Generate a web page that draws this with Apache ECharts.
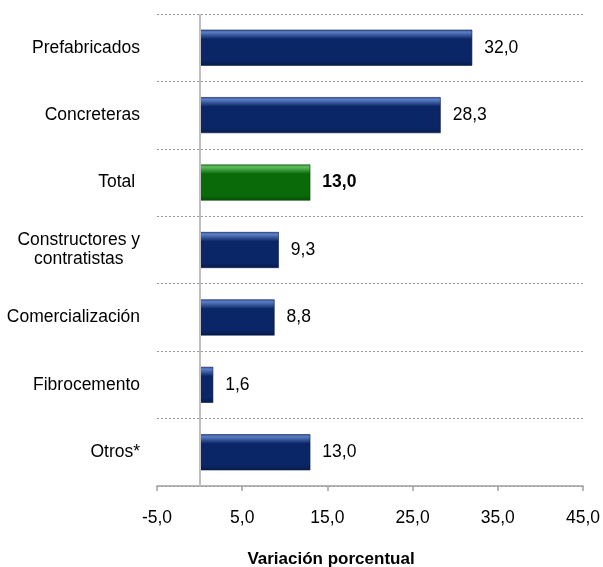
<!DOCTYPE html>
<html>
<head>
<meta charset="utf-8">
<script src="https://cdn.jsdelivr.net/npm/echarts@6/dist/echarts.min.js"></script>
<style>
html,body{margin:0;padding:0;background:#fff;}
#c{width:603px;height:567px;}
</style>
</head>
<body>
<div id="c"></div>
<script>
const categories = ['Prefabricados', 'Concreteras', 'Total ', 'Constructores y\ncontratistas', 'Comercialización', 'Fibrocemento', 'Otros*'];
const values = [32.0, 28.3, 13.0, 9.3, 8.8, 1.6, 13.0];
const highlightCategory = 'Total ';
const xTicks = [-5, 5, 15, 25, 35, 45];
const xMin = -5, xMax = 45;
const axisTitle = 'Variación porcentual';

const fmt = v => v.toFixed(1).replace('.', ',');
const FONT = '"Liberation Sans", Arial, sans-serif';
const FS = 17.5;

function barGradient(light, mid, main, dark) {
  return new echarts.graphic.LinearGradient(0, 0, 0, 1, [
    { offset: 0, color: mid },
    { offset: 0.07, color: light },
    { offset: 0.26, color: main },
    { offset: 0.86, color: main },
    { offset: 1, color: dark }
  ]);
}
const blue = barGradient('#5a7dc4', '#3a5ca6', '#0a2666', '#071b4a');
const green = barGradient('#5cbf5c', '#3d9a3d', '#0a6a0a', '#064f06');

const data = values.map((v, i) => {
  const isHi = categories[i] === highlightCategory;
  return {
    value: v,
    itemStyle: { color: isHi ? green : blue, borderColor: isHi ? '#064a06' : '#061a45', borderWidth: 0.6 },
    label: { fontWeight: isHi ? 'bold' : 'normal' }
  };
});

const chart = echarts.init(document.getElementById('c'), null, { renderer: 'canvas' });
chart.setOption({
  animation: false,
  backgroundColor: '#ffffff',
  grid: { left: 157, right: 20, top: 14, bottom: 81, containLabel: false },
  title: {
    text: axisTitle,
    left: 326,
    top: 546,
    textAlign: 'center',
    textStyle: { fontFamily: FONT, fontSize: 17, fontWeight: 'bold', color: '#000' }
  },
  xAxis: {
    type: 'value',
    min: xMin,
    max: xMax,
    axisLine: { show: true, onZero: false, lineStyle: { color: '#a0a0a0', width: 1.5 } },
    axisTick: { show: true, length: 5, inside: false, customValues: xTicks, lineStyle: { color: '#a0a0a0', width: 1.5 } },
    axisLabel: { customValues: xTicks, formatter: v => fmt(v), margin: 23, fontFamily: FONT, fontSize: FS, color: '#000' },
    splitLine: { show: false }
  },
  yAxis: {
    type: 'category',
    data: categories,
    inverse: true,
    axisLine: { show: false },
    axisTick: { show: false },
    splitLine: { show: true, lineStyle: { type: [2, 2], color: '#999999', width: 1 } },
    axisLabel: {
      margin: 17,
      fontFamily: FONT,
      fontSize: FS,
      color: '#000',
      lineHeight: 19,
      formatter: v => v.split('\n').map(s => '{c|' + s + '}').join('\n'),
      rich: { c: { align: 'center', fontFamily: FONT, fontSize: FS, color: '#000', lineHeight: 19 } }
    }
  },
  series: [{
    type: 'bar',
    data: data,
    barWidth: 36,
    label: {
      show: true,
      position: 'right',
      distance: 12,
      formatter: p => fmt(p.value),
      fontFamily: FONT,
      fontSize: FS,
      color: '#000'
    },
    markLine: {
      silent: true,
      symbol: 'none',
      label: { show: false },
      lineStyle: { color: '#bfbfbf', width: 2, type: 'solid' },
      data: [{ xAxis: 0 }]
    }
  }]
});
</script>
</body>
</html>
